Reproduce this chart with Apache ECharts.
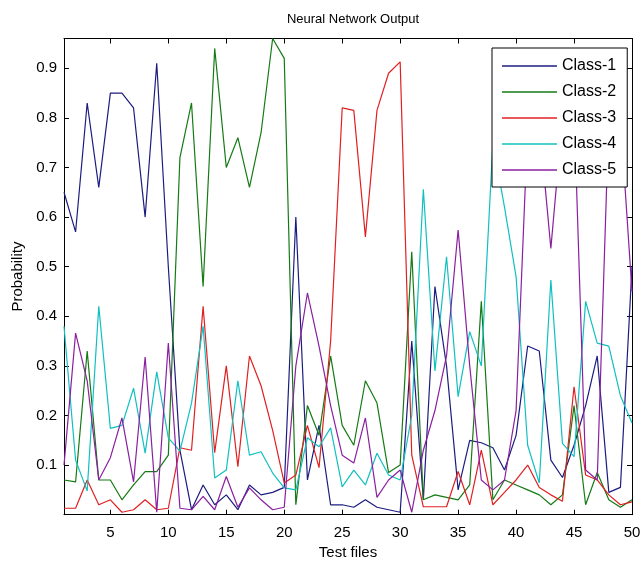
<!DOCTYPE html>
<html>
<head>
<meta charset="utf-8">
<title>Neural Network Output</title>
<script src="https://cdn.jsdelivr.net/npm/echarts@6/dist/echarts.min.js"></script>
<style>
html,body{margin:0;padding:0;background:#fff;}
#chart{width:641px;height:561px;}
</style>
</head>
<body>
<div id="chart"></div>
<script>
var testFiles = [];
for (var n = 1; n <= 50; n++) { testFiles.push(n); }

var seriesNames = ['Class-1', 'Class-2', 'Class-3', 'Class-4', 'Class-5'];
var seriesColors = ['#1c1c80', '#147a14', '#e02020', '#10c0c0', '#8a1fa0'];

var class1 = [0.65, 0.57, 0.83, 0.66, 0.85, 0.85, 0.82, 0.60, 0.91, 0.50,
	0.13, 0.01, 0.06, 0.02, 0.04, 0.01, 0.06, 0.04, 0.045, 0.055,
	0.60, 0.07, 0.18, 0.02, 0.02, 0.015, 0.03, 0.015, 0.01, 0.005,
	0.35, 0.03, 0.46, 0.30, 0.05, 0.15, 0.145, 0.135, 0.09, 0.16,
	0.34, 0.33, 0.11, 0.075, 0.14, 0.22, 0.32, 0.045, 0.055, 0.50];
var class2 = [0.07, 0.066, 0.33, 0.07, 0.07, 0.03, 0.06, 0.087, 0.087, 0.12,
	0.72, 0.83, 0.46, 0.94, 0.70, 0.76, 0.66, 0.77, 0.96, 0.92,
	0.02, 0.22, 0.16, 0.32, 0.18, 0.14, 0.27, 0.225, 0.085, 0.10,
	0.53, 0.03, 0.04, 0.035, 0.03, 0.06, 0.43, 0.03, 0.07, 0.06,
	0.05, 0.04, 0.02, 0.04, 0.22, 0.02, 0.085, 0.03, 0.015, 0.03];
var class3 = [0.013, 0.013, 0.07, 0.02, 0.03, 0.005, 0.01, 0.03, 0.01, 0.013,
	0.135, 0.13, 0.42, 0.125, 0.30, 0.097, 0.32, 0.26, 0.17, 0.064,
	0.08, 0.18, 0.095, 0.35, 0.82, 0.815, 0.56, 0.815, 0.89, 0.913,
	0.12, 0.016, 0.016, 0.016, 0.087, 0.02, 0.13, 0.02, 0.045, 0.07,
	0.10, 0.055, 0.04, 0.027, 0.258, 0.08, 0.07, 0.04, 0.02, 0.026];
var class4 = [0.38, 0.11, 0.048, 0.42, 0.174, 0.18, 0.255, 0.124, 0.288, 0.155,
	0.128, 0.225, 0.38, 0.074, 0.09, 0.27, 0.12, 0.127, 0.084, 0.054,
	0.05, 0.155, 0.137, 0.175, 0.056, 0.09, 0.06, 0.124, 0.08, 0.07,
	0.20, 0.656, 0.29, 0.52, 0.238, 0.369, 0.30, 0.75, 0.62, 0.48,
	0.14, 0.064, 0.473, 0.144, 0.117, 0.43, 0.346, 0.34, 0.24, 0.185];
var class5 = [0.10, 0.366, 0.27, 0.07, 0.115, 0.195, 0.066, 0.318, 0.005, 0.346,
	0.013, 0.01, 0.037, 0.01, 0.077, 0.015, 0.054, 0.03, 0.01, 0.015,
	0.30, 0.447, 0.34, 0.22, 0.12, 0.104, 0.195, 0.035, 0.07, 0.09,
	0.005, 0.13, 0.21, 0.32, 0.574, 0.30, 0.07, 0.05, 0.07, 0.21,
	0.78, 0.79, 0.537, 0.80, 0.82, 0.09, 0.07, 0.80, 0.80, 0.45];

var xTicks = [5, 10, 15, 20, 25, 30, 35, 40, 45, 50];
var yTicks = [0.1, 0.2, 0.3, 0.4, 0.5, 0.6, 0.7, 0.8, 0.9];

var fontName = 'Liberation Sans, Arial, sans-serif';

function toPairs(values){
	var arr = [];
	for (var i = 0; i < values.length; i++) {
		arr.push([testFiles[i], values[i]]);
	}
	return arr;
}

function makeXAxis(pos, showLabel){
	return {
		type: 'value',
		position: pos,
		min: 1,
		max: 50,
		axisLine: {show: true, onZero: false, lineStyle: {color: '#000', width: 1}},
		axisTick: {show: true, inside: true, length: 5, customValues: xTicks, lineStyle: {color: '#000'}},
		axisLabel: {show: showLabel, customValues: xTicks, margin: 11, color: '#000', fontSize: 15, fontFamily: fontName},
		splitLine: {show: false}
	};
}

function makeYAxis(pos, showLabel){
	return {
		type: 'value',
		position: pos,
		min: 0,
		max: 0.96,
		axisLine: {show: true, onZero: false, lineStyle: {color: '#000', width: 1}},
		axisTick: {show: true, inside: true, length: 5, customValues: yTicks, lineStyle: {color: '#000'}},
		axisLabel: {
			show: showLabel,
			customValues: yTicks,
			margin: 7,
			color: '#000',
			fontSize: 15,
			fontFamily: fontName,
			formatter: function(v){ return v.toFixed(1); }
		},
		splitLine: {show: false}
	};
}

var classData = [class1, class2, class3, class4, class5];
var seriesList = [];
for (var k = 0; k < classData.length; k++) {
	seriesList.push({
		name: seriesNames[k],
		type: 'line',
		data: toPairs(classData[k]),
		symbol: 'none',
		showSymbol: false,
		lineStyle: {width: 1.2, color: seriesColors[k]},
		itemStyle: {color: seriesColors[k]},
		z: 2
	});
}

var xMain = makeXAxis('bottom', true);
xMain.name = 'Test files';
xMain.nameLocation = 'middle';
xMain.nameGap = 29;
xMain.nameTextStyle = {color: '#000', fontSize: 15, fontFamily: fontName};

var yMain = makeYAxis('left', true);
yMain.name = 'Probability';
yMain.nameLocation = 'middle';
yMain.nameGap = 38;
yMain.nameTextStyle = {color: '#000', fontSize: 15, fontFamily: fontName};

// legend: plain line samples, boxed like matlab
var legendItems = [];
for (var j = 0; j < seriesNames.length; j++) {
	legendItems.push({name: seriesNames[j], icon: 'rect', itemStyle: {color: seriesColors[j]}});
}

var option = {
	animation: false,
	backgroundColor: '#fff',
	title: {
		text: 'Neural Network Output',
		left: 348,
		textAlign: 'center',
		top: 8,
		textStyle: {color: '#000', fontSize: 13, fontWeight: 'normal', fontFamily: fontName}
	},
	grid: {left: 64, right: 9, top: 38.5, bottom: 46.3, containLabel: false, outerBoundsMode: 'none'},
	legend: {
		orient: 'vertical',
		left: 492,
		top: 48,
		data: legendItems,
		itemWidth: 55,
		itemHeight: 1.5,
		itemGap: 8,
		padding: [9, 11, 8, 10],
		backgroundColor: '#fff',
		borderColor: '#000',
		borderWidth: 1,
		borderRadius: 0,
		textStyle: {color: '#000', fontSize: 16, lineHeight: 18, fontFamily: fontName},
		z: 10
	},
	xAxis: [xMain, makeXAxis('top', false)],
	yAxis: [yMain, makeYAxis('right', false)],
	series: seriesList
};

echarts.init(document.getElementById('chart')).setOption(option);
</script>
</body>
</html>
